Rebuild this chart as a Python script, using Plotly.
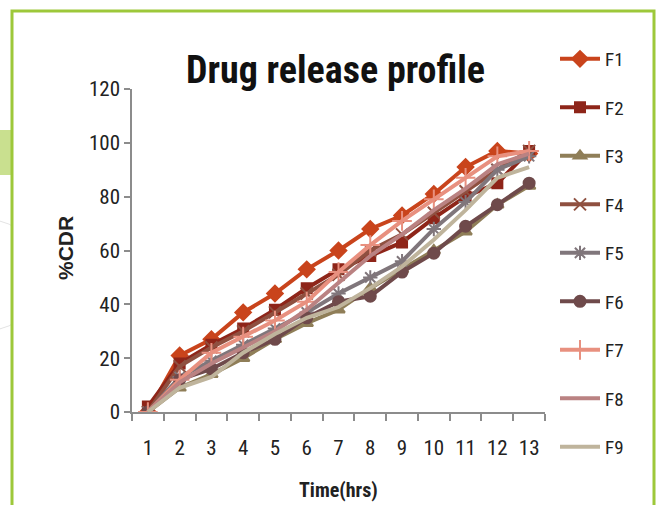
import plotly.graph_objects as go

time_hrs = list(range(1, 14))
x_labels = [str(t) for t in time_hrs]

series_names = ["F1", "F2", "F3", "F4", "F5", "F6", "F7", "F8", "F9"]
F1 = [0, 21, 27, 37, 44, 53, 60, 68, 73, 81, 91, 97, 96]
F2 = [2, 18, 25, 31, 38, 46, 53, 58, 63, 72, 80, 85, 97]
F3 = [0, 9, 14, 20, 27, 33, 38, 46, 53, 60, 67, 77, 84]
F4 = [0, 17, 24, 30, 37, 44, 51, 60, 66, 74, 82, 90, 97]
F5 = [0, 13, 19, 25, 31, 37, 44, 50, 56, 68, 78, 90, 95]
F6 = [0, 12, 16, 22, 27, 35, 41, 43, 52, 59, 69, 77, 85]
F7 = [0, 12, 22, 28, 34, 41, 52, 62, 71, 79, 87, 95, 97]
F8 = [0, 11, 18, 24, 30, 38, 48, 58, 66, 75, 83, 92, 96]
F9 = [0, 9, 13, 22, 29, 35, 39, 46, 54, 64, 75, 87, 91]
all_series = [F1, F2, F3, F4, F5, F6, F7, F8, F9]

colors = ["#C9441C", "#8E2519", "#8F7E58", "#8F5040", "#80767B",
          "#6F4A4B", "#E8907F", "#BA8282", "#BFB49C"]
symbols = ["diamond", "square", "triangle-up", "x-thin-open", "asterisk-open",
           "circle", "cross-thin-open", None, None]
sizes = [12, 10, 11, 12, 12, 11, 14, 0, 0]

FONT = "Liberation Sans Narrow, Arial Narrow, Roboto Condensed, DejaVu Sans Condensed, sans-serif"

L, R, T, B = 132, 112, 89, 93
W, H = 657, 505
pw, ph = W - L - R, H - T - B

def px_x(p):
    return (p - L) / pw

def px_y(p):
    return (H - B - p) / ph

fig = go.Figure()
for i, (name, vals) in enumerate(zip(series_names, all_series)):
    if symbols[i] is None:
        mode = "lines"
        marker = None
    else:
        mode = "lines+markers"
        marker = dict(symbol=symbols[i], size=sizes[i], color=colors[i],
                      line=dict(color=colors[i], width=2))
    fig.add_trace(go.Scatter(
        x=time_hrs, y=vals, name=name, mode=mode,
        line=dict(color=colors[i], width=4),
        marker=marker, legendgroup=name,
    ))

fig.update_layout(
    width=W, height=H,
    margin=dict(l=L, r=R, t=T, b=B),
    paper_bgcolor="white", plot_bgcolor="white",
    showlegend=True,
    legend=dict(
        x=px_x(555), y=px_y(40), xanchor="left", yanchor="top",
        font=dict(family=FONT, size=19, color="#222"),
        tracegroupgap=20.8, itemwidth=40, maxheight=470,
        bgcolor="rgba(0,0,0,0)",
    ),
    xaxis=dict(
        range=[0.5, 13.5], tickvals=time_hrs, ticktext=x_labels,
        ticks="", showgrid=False, zeroline=False,
        showline=True, linecolor="#8c8c8c", linewidth=1.5,
        tickfont=dict(family=FONT, size=21, color="#222"),
        ticklabelstandoff=16,
        minor=dict(tickvals=[v + 0.5 for v in range(0, 14)], ticks="outside",
                   ticklen=7, tickcolor="#8c8c8c", tickwidth=1.5, showgrid=False),
    ),
    yaxis=dict(
        range=[0, 120], dtick=20, ticks="outside", ticklen=6,
        tickcolor="#8c8c8c", tickwidth=1.5,
        showgrid=False, zeroline=False,
        showline=True, linecolor="#8c8c8c", linewidth=1.5,
        tickfont=dict(family=FONT, size=21, color="#222"),
    ),
    annotations=[
        dict(text="<b>Drug release profile</b>", xref="paper", yref="paper",
             x=px_x(335), y=px_y(70), xanchor="center", yanchor="middle",
             showarrow=False, font=dict(family=FONT, size=38, color="#111")),
        dict(text="<b>%CDR</b>", xref="paper", yref="paper",
             x=px_x(65), y=px_y(248), xanchor="center", yanchor="middle",
             textangle=-90, showarrow=False,
             font=dict(family="Liberation Sans, Arial, sans-serif", size=21, color="#222")),
        dict(text="<b>Time(hrs)</b>", xref="paper", yref="paper",
             x=px_x(338), y=px_y(490), xanchor="center", yanchor="middle",
             showarrow=False, font=dict(family=FONT, size=20, color="#222")),
    ],
    shapes=[
        dict(type="rect", xref="paper", yref="paper",
             x0=px_x(-20), x1=px_x(11), y0=px_y(175), y1=px_y(130),
             fillcolor="#C9E08F", line=dict(width=0), layer="below"),
        dict(type="circle", xref="paper", yref="paper",
             x0=px_x(-60), x1=px_x(40), y0=px_y(330), y1=px_y(220),
             fillcolor="rgba(0,0,0,0)", line=dict(color="#e3e3e3", width=1), layer="below"),
        dict(type="rect", xref="paper", yref="paper",
             x0=px_x(12), x1=px_x(654), y0=px_y(530), y1=px_y(11),
             fillcolor="white", line=dict(color="#9DC83A", width=3), layer="below"),
    ],
)

fig.write_html("out.html")
